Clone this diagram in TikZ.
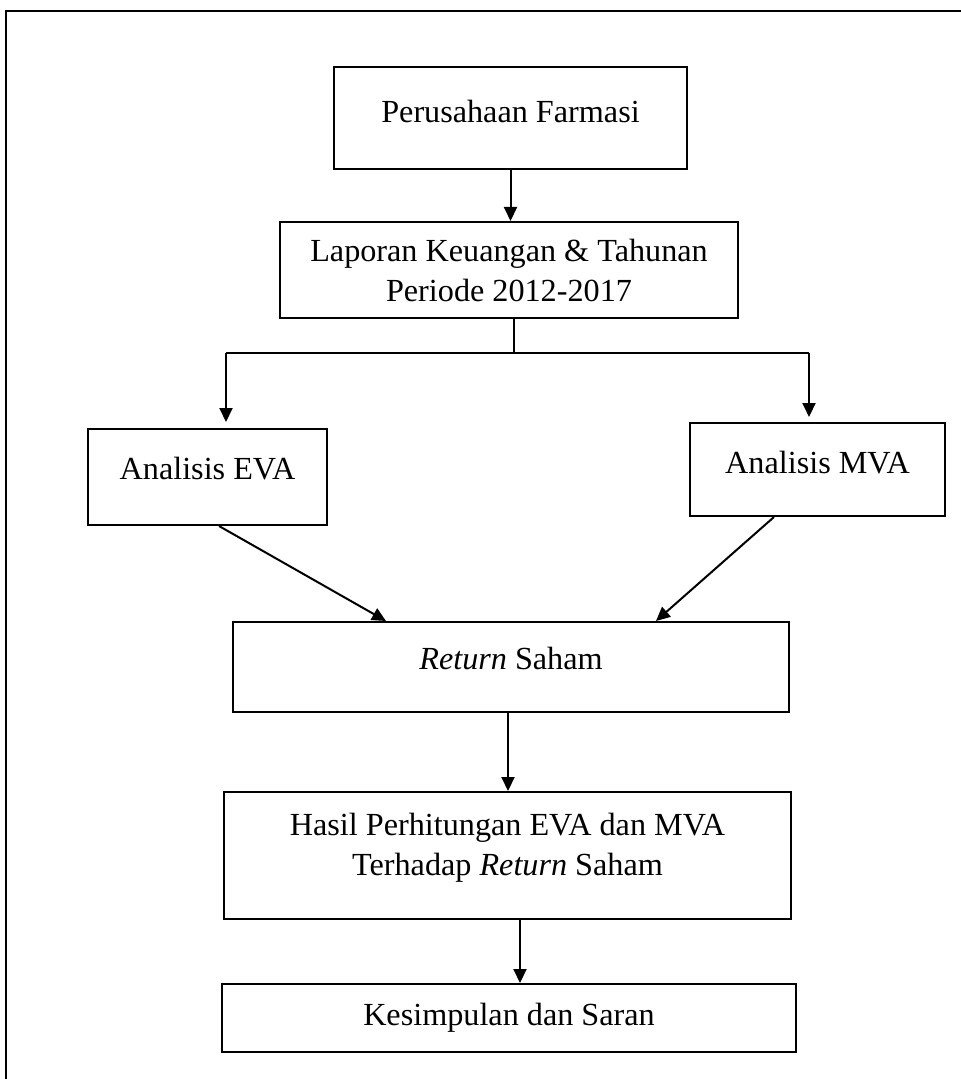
\documentclass[tikz,border=0pt]{standalone}
\usepackage{fontspec}
\setmainfont{Liberation Serif}
\usetikzlibrary{arrows.meta, calc}

\begin{document}
\begin{tikzpicture}[x=0.5pt, y=-0.5pt]
    \tikzset{
        kotak/.style={draw, line width=1pt, inner sep=0pt, align=center,
            font=\fontsize{16.1}{20}\selectfont},
        panah/.style={-{Triangle[length=7pt, width=6.5pt]}, line width=1pt},
        garis/.style={line width=1pt}
    }
    \useasboundingbox (0,0) rectangle (961,1079);

    % Bingkai luar
    \draw[garis] (6,1079) -- (6,11) -- (961,11);

    % Perusahaan Farmasi
    \node[kotak, minimum width=176.5pt, minimum height=51pt, text depth=6.5pt] (farmasi) at (510.5,118) {Perusahaan Farmasi};

    % Laporan keuangan
    \node[kotak, minimum width=229pt, minimum height=48pt] (laporan) at (509,270) {Laporan Keuangan \& Tahunan\\Periode 2012-2017};

    % Analisis EVA dan MVA
    \node[kotak, minimum width=119.5pt, minimum height=48pt, text depth=9pt] (eva) at (207.5,477) {Analisis EVA};
    \node[kotak, minimum width=127.5pt, minimum height=46.5pt, text depth=7.5pt] (mva) at (817.5,469.5) {Analisis MVA};

    % Return saham
    \node[kotak, minimum width=278pt, minimum height=45pt, text depth=9pt] (return) at (511,667) {\textit{Return} Saham};

    % Hasil
    \node[kotak, minimum width=283.5pt, minimum height=63.5pt, text depth=11.5pt] (hasil) at (507.5,855.5) {Hasil Perhitungan EVA dan MVA\\Terhadap \textit{Return} Saham};

    % Kesimpulan
    \node[kotak, minimum width=287pt, minimum height=34pt] (kesimpulan) at (509,1018) {Kesimpulan dan Saran};

    % Panah turun
    \draw[panah] (farmasi.south) -- (farmasi.south |- laporan.north);

    % Percabangan
    \coordinate (cabang) at (514,353);
    \coordinate (kiri) at (226,353);
    \coordinate (kanan) at (809,353);
    \draw[garis] (laporan.south -| cabang) -- (cabang);
    \draw[garis] (kiri) -- (kanan);
    \draw[panah, shorten >=3pt] (kiri) -- (kiri |- eva.north);
    \draw[panah, shorten >=2.5pt] (kanan) -- (kanan |- mva.north);

    % Ke return saham
    \draw[panah] ($(eva.south west)+(132,0)$) -- ($(return.north west)+(154,0)$);
    \draw[panah] ($(mva.south west)+(85,0)$) -- ($(return.north west)+(424,0)$);

    \draw[panah] ($(return.south west)+(276,0)$) -- ($(hasil.north west)+(285,0)$);
    \draw[panah] ($(hasil.south west)+(297,0)$) -- ($(kesimpulan.north west)+(299,0)$);
\end{tikzpicture}
\end{document}
